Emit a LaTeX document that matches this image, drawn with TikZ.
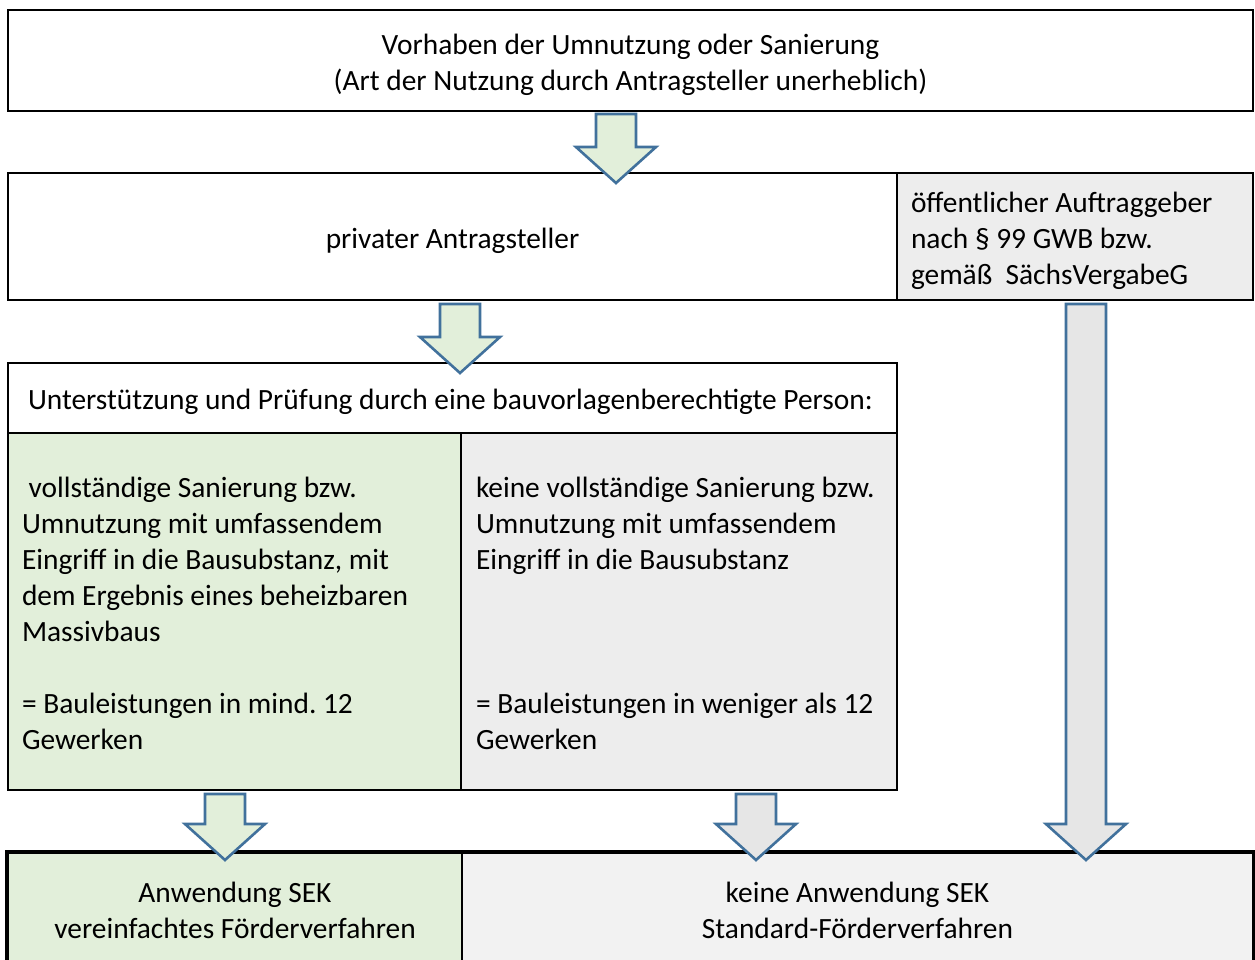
\documentclass[tikz,border=0pt]{standalone}
\usepackage{fontspec}
\setmainfont{Carlito}
\usetikzlibrary{calc}
\frenchspacing

\definecolor{cellgreen}{HTML}{E2EFDA}
\definecolor{cellgrey}{HTML}{EDEDED}
\definecolor{lightgrey}{HTML}{F2F2F2}
\definecolor{arrowgrey}{HTML}{E6E6E6}
\definecolor{arrowblue}{HTML}{41719C}

\tikzset{
  box/.style={shape=rectangle,draw=black,line width=1pt,inner sep=0pt,align=flush center,
    font=\fontsize{14.7}{18}\selectfont,
    execute at begin node={\rule{0pt}{15.5pt}},
    execute at end node={\rule[-3.7pt]{0pt}{3.7pt}}},
  leftbox/.style={box,align=flush left,inner xsep=7pt},
  greenarrow/.style={draw=arrowblue,fill=cellgreen,line width=1.3pt,line join=miter},
  greyarrow/.style={draw=arrowblue,fill=arrowgrey,line width=1.3pt,line join=miter}
}

% one unbroken line of text
\newcommand\row[1]{\mbox{#1}}

% block arrow: style, start point, tip point
\newcommand\blockarrow[3]{\path[#1] let \p1=#2, \p2=#3 in
  (\x2-10pt,\y1) -- (\x2-10pt,\y2+18pt) -- (\x2-20pt,\y2+18pt) -- (\x2,\y2)
  -- (\x2+20pt,\y2+18pt) -- (\x2+10pt,\y2+18pt) -- (\x2+10pt,\y1) -- cycle;}

\begin{document}
\begin{tikzpicture}[x=0.5pt,y=-0.5pt]
\useasboundingbox (0,0) rectangle (1255,960);

\node[box,text width=600pt,minimum width=622.5pt,minimum height=50.5pt] (vorhaben) at (630.5,60.5)
  {\row{Vorhaben der Umnutzung oder Sanierung}\\\row{(Art der Nutzung durch Antragsteller unerheblich)}};
\node[box,minimum width=444.5pt,minimum height=63.5pt] (privat) at (452.5,236.5)
  {privater Antragsteller};
\node[leftbox,fill=cellgrey,text width=164pt,minimum height=63.5pt] (oeffentlich) at (1075,236.5)
  {\row{öffentlicher Auftraggeber}\\\row{nach § 99 GWB bzw.}\\\row{gemäß\ \ SächsVergabeG}};
\node[leftbox,inner xsep=10pt,text width=424.5pt,minimum height=35pt] (pruefung) at (452.5,398)
  {\row{\spaceskip=0.225em Unterstützung und Prüfung durch eine bauvorlagenberechtigte Person:}};
\node[leftbox,fill=cellgreen,text width=212.5pt,minimum height=178.5pt] (voll) at (234.5,611.5)
  {\row{~vollständige Sanierung bzw.}\\\row{Umnutzung mit umfassendem}\\\row{Eingriff in die Bausubstanz, mit}\\\row{dem Ergebnis eines beheizbaren}\\\row{Massivbaus}\\[18pt]\row{= Bauleistungen in mind. 12}\\\row{Gewerken}};
\node[leftbox,fill=cellgrey,inner xsep=7.5pt,text width=203pt,minimum height=178.5pt] (keine) at (679,611.5)
  {\row{keine vollständige Sanierung bzw.}\\\row{Umnutzung mit umfassendem}\\\row{Eingriff in die Bausubstanz}\\[54pt]\row{= Bauleistungen in weniger als 12}\\\row{Gewerken}};
\node[box,fill=cellgreen,text width=215pt,minimum width=227pt,minimum height=56pt] (sek) at (235,909)
  {\row{Anwendung SEK}\\\row{vereinfachtes Förderverfahren}};
\node[box,fill=lightgrey,text width=380pt,minimum width=395.5pt,minimum height=56pt] (keinsek) at (857.5,909)
  {\row{keine Anwendung SEK}\\\row{Standard-Förderverfahren}};
\draw[line width=2pt] (sek.north west) rectangle (keinsek.south east);

% arrow tips
\coordinate (t1) at (616,183);
\coordinate (t2) at (460,373);
\coordinate (t3) at (1086,860);
\coordinate (t4) at (225,860);
\coordinate (t5) at (756,860);

\blockarrow{greenarrow}{([yshift=-1pt]vorhaben.south -| t1)}{(t1)}
\blockarrow{greenarrow}{([yshift=-1.5pt]privat.south -| t2)}{(t2)}
\blockarrow{greyarrow}{([yshift=-1.5pt]oeffentlich.south -| t3)}{(t3)}
\blockarrow{greenarrow}{([yshift=-1.5pt]voll.south -| t4)}{(t4)}
\blockarrow{greyarrow}{([yshift=-1.5pt]keine.south -| t5)}{(t5)}
\end{tikzpicture}
\end{document}
